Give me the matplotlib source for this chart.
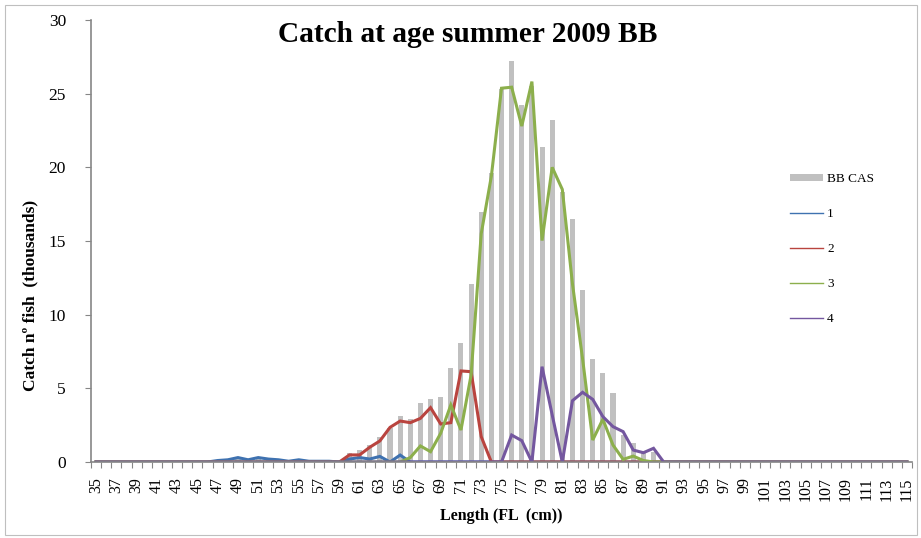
import matplotlib
matplotlib.use("Agg")
import matplotlib.pyplot as plt
from matplotlib.lines import Line2D
from matplotlib.patches import Patch, Rectangle
import numpy as np

# length classes (FL, cm)
lengths = list(range(35, 116))

# catch in thousands, one value per length class 35..115
bb_cas = [0, 0, 0, 0, 0, 0, 0, 0, 0, 0,                      # 35-44
          0, 0, 0.1, 0.15, 0.3, 0.15, 0.3, 0.2, 0.15, 0.05,   # 45-54
          0.15, 0.05, 0.05, 0.05, 0.1, 0.6, 0.8, 1.15, 1.7, 2.3,  # 55-64
          3.1, 2.9, 4.0, 4.3, 4.4, 6.4, 8.1, 12.1, 17.0, 19.6,   # 65-74
          25.3, 27.2, 24.2, 25.5, 21.4, 23.2, 18.3, 16.5, 11.7, 7.0,  # 75-84
          6.05, 4.7, 1.8, 1.3, 0.7, 0.7, 0, 0, 0, 0,          # 85-94
          0, 0, 0, 0, 0, 0, 0, 0, 0, 0,                       # 95-104
          0, 0, 0, 0, 0, 0, 0, 0, 0, 0, 0]                    # 105-115

age1 = [0, 0, 0, 0, 0, 0, 0, 0, 0, 0,
        0, 0, 0.1, 0.15, 0.3, 0.15, 0.3, 0.2, 0.15, 0.05,
        0.15, 0.05, 0.05, 0.05, 0, 0.2, 0.3, 0.2, 0.38, 0,
        0.47, 0, 0, 0, 0, 0, 0, 0, 0, 0,
        0, 0, 0, 0, 0, 0, 0, 0, 0, 0,
        0, 0, 0, 0, 0, 0, 0, 0, 0, 0,
        0, 0, 0, 0, 0, 0, 0, 0, 0, 0,
        0, 0, 0, 0, 0, 0, 0, 0, 0, 0, 0]

age2 = [0, 0, 0, 0, 0, 0, 0, 0, 0, 0,
        0, 0, 0, 0, 0, 0, 0, 0, 0, 0,
        0, 0, 0, 0, 0, 0.48, 0.48, 1.0, 1.43, 2.35,
        2.78, 2.67, 2.96, 3.69, 2.58, 2.67, 6.18, 6.13, 1.72, 0,
        0, 0, 0, 0, 0, 0, 0, 0, 0, 0,
        0, 0, 0, 0, 0, 0, 0, 0, 0, 0,
        0, 0, 0, 0, 0, 0, 0, 0, 0, 0,
        0, 0, 0, 0, 0, 0, 0, 0, 0, 0, 0]

age3 = [0, 0, 0, 0, 0, 0, 0, 0, 0, 0,
        0, 0, 0, 0, 0, 0, 0, 0, 0, 0,
        0, 0, 0, 0, 0, 0, 0, 0, 0, 0,
        0, 0.3, 1.09, 0.7, 1.95, 3.87, 2.17, 5.9, 15.5, 19.4,
        25.37, 25.44, 22.8, 25.82, 15.03, 20.0, 18.5, 12.1, 7.0, 1.49,
        2.9, 1.15, 0.18, 0.4, 0.1, 0, 0, 0, 0, 0,
        0, 0, 0, 0, 0, 0, 0, 0, 0, 0,
        0, 0, 0, 0, 0, 0, 0, 0, 0, 0, 0]

age4 = [0, 0, 0, 0, 0, 0, 0, 0, 0, 0,
        0, 0, 0, 0, 0, 0, 0, 0, 0, 0,
        0, 0, 0, 0, 0, 0, 0, 0, 0, 0,
        0, 0, 0, 0, 0, 0, 0, 0, 0, 0,
        0, 1.83, 1.45, 0, 6.47, 3.2, 0, 4.16, 4.73, 4.25,
        3.08, 2.4, 2.06, 0.81, 0.63, 0.93, 0, 0, 0, 0,
        0, 0, 0, 0, 0, 0, 0, 0, 0, 0,
        0, 0, 0, 0, 0, 0, 0, 0, 0, 0, 0]

series_names = ["1", "2", "3", "4"]
series_colors = ["#3F72B0", "#B9443F", "#8CAF4C", "#74579F"]

serif = "Liberation Serif"
grey = "#868686"

fig = plt.figure(figsize=(9.21, 5.38), dpi=100)
ax = fig.add_axes([91 / 921, 1 - 462 / 538, 821 / 921, 442 / 538])

x = np.arange(len(lengths))
ax.bar(x, bb_cas, width=0.5, color="#C0C0C0", zorder=1)
for vals, col in zip([age1, age2, age3, age4], series_colors):
    ax.plot(x, vals, color=col, lw=2.2, solid_joinstyle="miter", zorder=2)

ax.set_xlim(-0.5, len(lengths) - 0.5)
ax.set_ylim(0, 30)
ax.set_yticks(range(0, 31, 5))
ax.set_yticklabels([str(v) for v in range(0, 31, 5)], fontfamily=serif, fontsize=12.5)
ax.set_xticks(x[::2])
ax.set_xticklabels([str(v) for v in lengths[::2]], rotation=90,
                   fontfamily=serif, fontsize=11.5)
ax.set_xticks(np.arange(-0.5, len(lengths)), minor=True)
ax.tick_params(axis="x", which="major", length=0, pad=11)
ax.tick_params(axis="x", which="minor", length=4, color=grey, width=0.8)
ax.tick_params(axis="y", length=4, color=grey, width=0.8, pad=14)

for s in ["top", "right"]:
    ax.spines[s].set_visible(False)
for s in ["left", "bottom"]:
    ax.spines[s].set_color(grey)
    ax.spines[s].set_linewidth(1.2)

ax.set_ylabel("Catch nº fish  (thousands)", fontfamily=serif, fontweight="bold", fontsize=12.5)
ax.yaxis.set_label_coords((38 - 91) / 821, (462 - 295) / 442)
ax.set_xlabel("Length (FL  (cm))", fontfamily=serif, fontweight="bold", fontsize=11.5)
ax.xaxis.set_label_coords(0.5, -(508 - 462) / 442)

fig.text(468 / 921, 1 - 34 / 538, "Catch at age summer 2009 BB", ha="center", va="center",
         fontfamily=serif, fontweight="bold", fontsize=21.2)

handles = [Patch(facecolor="#C0C0C0", edgecolor="none")]
handles += [Line2D([], [], color=c, lw=1) for c in series_colors]
fig.legend(handles, ["BB CAS"] + series_names, loc="upper left",
           bbox_to_anchor=(790 / 921, 1 - 173 / 538), bbox_transform=fig.transFigure,
           frameon=False, prop={"family": serif, "size": 9.5}, handlelength=2.5,
           handleheight=0.5, handletextpad=0.3, labelspacing=1.75, borderpad=0,
           borderaxespad=0)

# outer chart border
fig.patches.append(Rectangle((5 / 921, 3 / 538), 912 / 921, 530 / 538,
                             transform=fig.transFigure, fill=False,
                             edgecolor="#BFBFBF", lw=0.8))

fig.savefig("out.png", dpi=100)
